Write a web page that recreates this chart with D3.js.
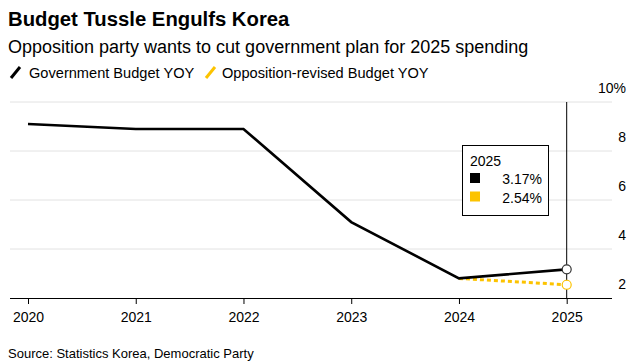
<!DOCTYPE html>
<html><head><meta charset="utf-8">
<script src="https://cdn.jsdelivr.net/npm/d3@7"></script>
<style>
body{margin:0;background:#fff;}
svg{font-family:"Liberation Sans",Arial,Helvetica,sans-serif;}
</style></head>
<body><svg id="c" width="635" height="364"></svg>
<script>
const years = [2020, 2021, 2022, 2023, 2024, 2025];
const govBudget = [9.1, 8.9, 8.9, 5.1, 2.8, 3.17];
const oppYears = [2024, 2025];
const oppBudget = [2.8, 2.54];
const yTicks = [2, 4, 6, 8, 10];
const seriesNames = ["Government Budget YOY", "Opposition-revised Budget YOY"];
const colors = ["#000000", "#fcc300"];

const svg = d3.select("#c");
const x = d3.scaleLinear().domain([2020, 2025]).range([28, 566.7]);
const y = d3.scaleLinear().domain([2, 10]).range([298, 102]);

svg.append("text").attr("x", 8).attr("y", 26).attr("font-size", 20.3).attr("font-weight", "bold")
  .attr("fill", "#000").text("Budget Tussle Engulfs Korea");
svg.append("text").attr("x", 8).attr("y", 53).attr("font-size", 18).attr("fill", "#000")
  .text("Opposition party wants to cut government plan for 2025 spending");

// legend
const lg = [{x: 10, tx: 29}, {x: 205, tx: 222}];
seriesNames.forEach((n, i) => {
  svg.append("line").attr("x1", lg[i].x + 1).attr("y1", 78).attr("x2", lg[i].x + 10).attr("y2", 67)
    .attr("stroke", colors[i]).attr("stroke-width", 3);
  svg.append("text").attr("x", lg[i].tx).attr("y", 78).attr("font-size", 14.6).attr("fill", "#000").text(n);
});

// gridlines
svg.append("g").selectAll("line").data(yTicks.filter(d => d > 2)).join("line")
  .attr("x1", 10).attr("x2", 612).attr("y1", d => y(d)).attr("y2", d => y(d))
  .attr("stroke", "#e2e2e2").attr("stroke-width", 1);

// right axis labels
svg.append("g").selectAll("text").data(yTicks).join("text")
  .attr("x", 626).attr("y", d => y(d) - 9).attr("text-anchor", "end")
  .attr("font-size", 14).attr("fill", "#000")
  .text(d => d === 10 ? "10%" : d);

// x axis
const xAxis = d3.axisBottom(x).tickValues(years).tickFormat(d3.format("d")).tickSize(6).tickPadding(8);
const gx = svg.append("g").attr("transform", `translate(0,${y(2)})`).call(xAxis);
gx.select(".domain").attr("d", "M10,0.5H612").attr("stroke", "#000").attr("stroke-width", 1);
gx.selectAll(".tick line").attr("stroke", "#000");
gx.selectAll(".tick text").attr("font-size", 14).attr("fill", "#000")
  .attr("font-family", "'Liberation Sans',Arial,sans-serif");

// vertical hover line
svg.append("line").attr("x1", x(2025)).attr("x2", x(2025)).attr("y1", y(10)).attr("y2", y(2))
  .attr("stroke", "#000").attr("stroke-width", 1);

// opposition line
const opp = oppYears.map((d, i) => [d, oppBudget[i]]);
svg.append("path").datum(opp)
  .attr("d", d3.line().x(d => x(d[0])).y(d => y(d[1])))
  .attr("fill", "none").attr("stroke", colors[1]).attr("stroke-width", 3)
  .attr("stroke-dasharray", "4,3");

// government line
const gov = years.map((d, i) => [d, govBudget[i]]);
svg.append("path").datum(gov)
  .attr("d", d3.line().x(d => x(d[0])).y(d => y(d[1])))
  .attr("fill", "none").attr("stroke", colors[0]).attr("stroke-width", 2.6)
  .attr("stroke-linejoin", "miter");

// markers
svg.append("circle").attr("cx", x(2025)).attr("cy", y(govBudget[5])).attr("r", 4.5)
  .attr("fill", "#fff").attr("stroke", "#333").attr("stroke-width", 1.2);
svg.append("circle").attr("cx", x(2025)).attr("cy", y(oppBudget[1])).attr("r", 4.5)
  .attr("fill", "#fff").attr("stroke", colors[1]).attr("stroke-width", 1.2);

// tooltip box
const tb = svg.append("g");
tb.append("rect").attr("x", 462.5).attr("y", 145.5).attr("width", 86).attr("height", 70)
  .attr("fill", "#fff").attr("stroke", "#000").attr("stroke-width", 1);
tb.append("text").attr("x", 470).attr("y", 166).attr("font-size", 14).attr("fill", "#000").text("2025");
const tipVals = [govBudget[5], oppBudget[1]];
tipVals.forEach((v, i) => {
  tb.append("rect").attr("x", 470).attr("y", 173 + i * 18.5).attr("width", 10).attr("height", 10).attr("fill", colors[i]);
  tb.append("text").attr("x", 542).attr("y", 184 + i * 18.5).attr("text-anchor", "end")
    .attr("font-size", 14).attr("fill", "#000").text(v.toFixed(2) + "%");
});

svg.append("text").attr("x", 8).attr("y", 358).attr("font-size", 13).attr("fill", "#000")
  .text("Source: Statistics Korea, Democratic Party");
</script></body></html>
